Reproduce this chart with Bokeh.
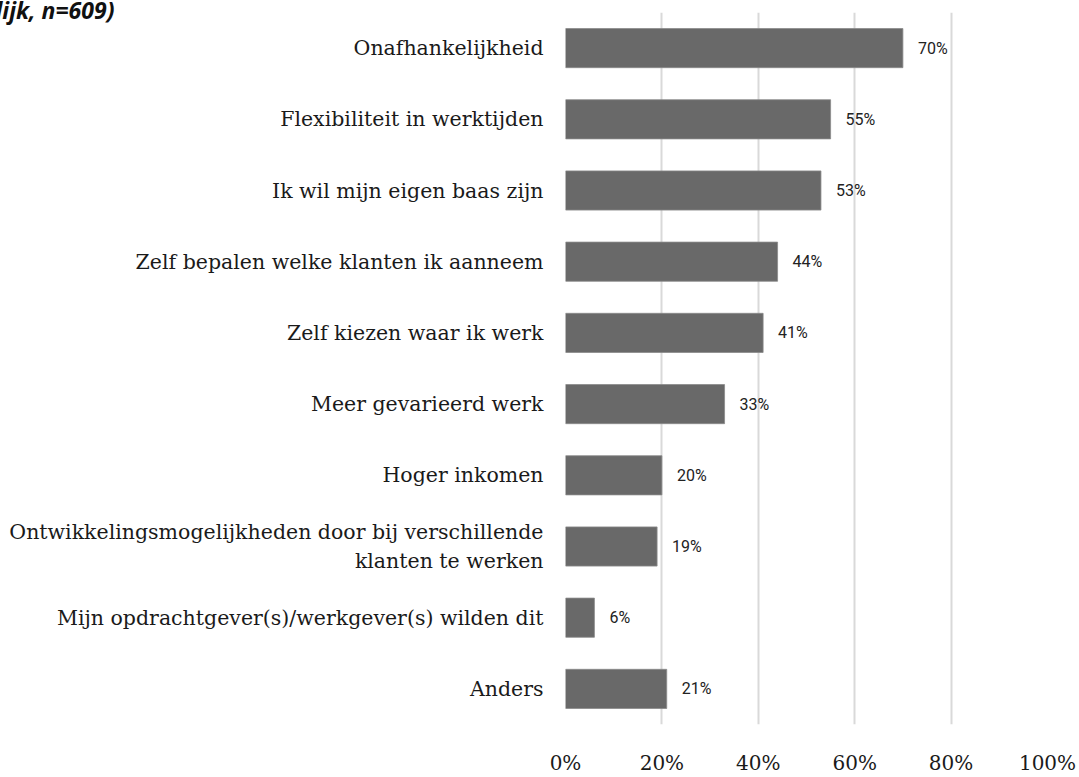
from bokeh.plotting import figure
from bokeh.models import ColumnDataSource, FixedTicker, Range1d, Title
from bokeh.core.properties import value
from bokeh.embed import file_html
from bokeh.resources import INLINE

# Reasons for working as a freelancer (share of respondents)
reasons = [
    "Onafhankelijkheid",
    "Flexibiliteit in werktijden",
    "Ik wil mijn eigen baas zijn",
    "Zelf bepalen welke klanten ik aanneem",
    "Zelf kiezen waar ik werk",
    "Meer gevarieerd werk",
    "Hoger inkomen",
    "Ontwikkelingsmogelijkheden door bij verschillende\nklanten te werken",
    "Mijn opdrachtgever(s)/werkgever(s) wilden dit",
    "Anders",
]
shares = [70, 55, 53, 44, 41, 33, 20, 19, 6, 21]
x_ticks = [0, 20, 40, 60, 80, 100]

pos = list(range(len(reasons)))

src = ColumnDataSource(dict(
    pos=pos,
    share=shares,
    label=[f"{s}%" for s in shares],
))

p = figure(
    width=1079, height=777,
    y_range=Range1d(len(reasons) - 0.5, -0.5),
    x_range=Range1d(0, 100),
    output_backend="svg", toolbar_location=None,
    min_border_left=565, min_border_right=32,
    min_border_top=12, min_border_bottom=40,
)
p.outline_line_color = None
p.background_fill_color = "white"
p.border_fill_color = "white"

# Heading, of which only the tail end shows at the top edge
p.title = Title(
    text="lijk, n=609)", align="left", vertical_align="top",
    offset=-570, standoff=-30,
    text_font="Open Sans", text_font_style="bold italic",
    text_font_size="23px", text_color="#111111",
)

p.hbar(y="pos", right="share", left=0, height=0.55, source=src,
       fill_color="#696969", line_color="#8a8a8a", line_width=0.8)

p.text(x="share", y="pos", text="label", source=src,
       x_offset=15, text_baseline="middle", text_align="left",
       text_font=value("Roboto"), text_font_size="16px", text_color="#222222")

p.xaxis.ticker = FixedTicker(ticks=x_ticks)
p.xaxis.major_label_overrides = {t: f"{t}%" for t in x_ticks}
p.xaxis.axis_line_color = None
p.xaxis.major_tick_line_color = None
p.xaxis.minor_tick_line_color = None
p.xaxis.major_label_standoff = 20
p.xaxis.major_label_text_font = "DejaVu Serif"
p.xaxis.major_label_text_font_size = "20px"
p.xaxis.major_label_text_color = "#1a1a1a"

# Category names as y-axis tick labels
p.yaxis.ticker = FixedTicker(ticks=pos)
p.yaxis.major_label_overrides = {i: r for i, r in zip(pos, reasons)}
p.yaxis.axis_line_color = None
p.yaxis.major_tick_line_color = None
p.yaxis.minor_tick_line_color = None
p.yaxis.major_label_standoff = 16
p.yaxis.major_label_text_font = "DejaVu Serif"
p.yaxis.major_label_text_font_size = "20.5px"
p.yaxis.major_label_text_color = "#1a1a1a"

p.ygrid.grid_line_color = None
p.xgrid.grid_line_color = "#d9d9d9"
p.xgrid.grid_line_width = 2

open("out.html", "w").write(file_html(p, INLINE))
